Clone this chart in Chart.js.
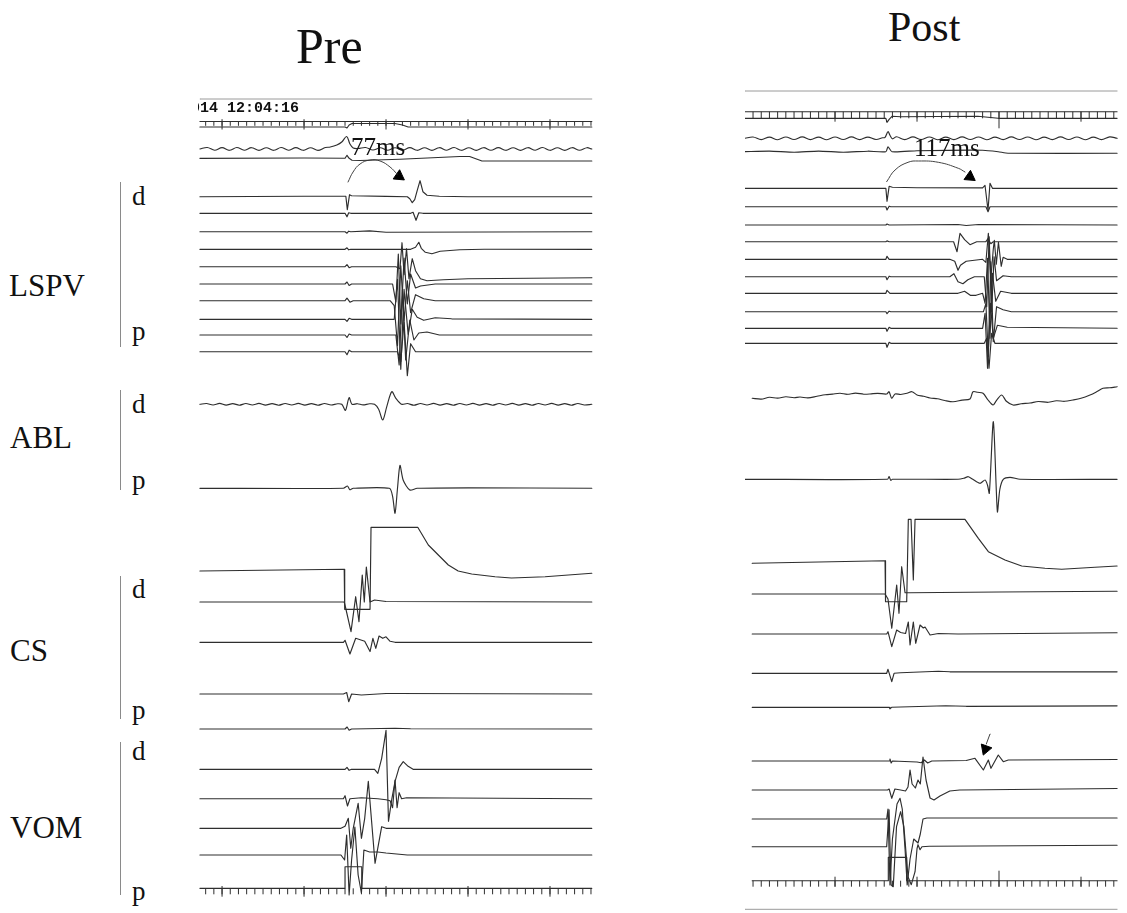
<!DOCTYPE html>
<html><head><meta charset="utf-8">
<script src="https://cdn.jsdelivr.net/npm/chart.js@4.4.1/dist/chart.umd.min.js"></script>
<style>
html,body{margin:0;padding:0;background:#fff}
body{width:1127px;height:913px;position:relative;overflow:hidden;font-family:"Liberation Serif","Times New Roman",serif;color:#111}
canvas{position:absolute}
.t{position:absolute;line-height:1;white-space:nowrap}
.br{position:absolute;width:0;border-left:1px solid #8a8a8a}
</style></head><body>
<canvas id="pre" width="405" height="833" style="left:195px;top:80px"></canvas>
<canvas id="post" width="377" height="833" style="left:745px;top:80px"></canvas>

<div class="t" style="left:296px;top:21px;font-size:50px">Pre</div>
<div class="t" style="left:888px;top:6px;font-size:42px">Post</div>

<div class="t" style="left:9px;top:270px;font-size:31px">LSPV</div>
<div class="t" style="left:10px;top:422px;font-size:31px">ABL</div>
<div class="t" style="left:10px;top:635px;font-size:31px">CS</div>
<div class="t" style="left:10px;top:812px;font-size:31px">VOM</div>
<div class="t" style="left:132px;top:183px;font-size:27px">d</div>
<div class="t" style="left:132px;top:318px;font-size:27px">p</div>
<div class="t" style="left:132px;top:391px;font-size:27px">d</div>
<div class="t" style="left:132px;top:467px;font-size:27px">p</div>
<div class="t" style="left:132px;top:576px;font-size:27px">d</div>
<div class="t" style="left:132px;top:697px;font-size:27px">p</div>
<div class="t" style="left:132px;top:738px;font-size:27px">d</div>
<div class="t" style="left:132px;top:878px;font-size:27px">p</div>
<div class="br" style="left:120px;top:182px;height:165px"></div>
<div class="br" style="left:120px;top:390px;height:100px"></div>
<div class="br" style="left:120px;top:576px;height:143px"></div>
<div class="br" style="left:120px;top:742px;height:153px"></div>

<div class="t" style="left:198px;top:101px;width:110px;overflow:hidden;font-family:'Liberation Mono',monospace;font-weight:bold;font-size:15px"><span style="margin-left:-7px">014 12:04:16</span></div>
<div class="t" style="left:351px;top:134px;font-size:25px">77ms</div>
<div class="t" style="left:914px;top:135px;font-size:25px">117ms</div>

<script>
// ---------- DATA (time in ms, amplitude in display units, + = up) ----------
// Ruler ticks (ms)
const preRulerMinor = [-20,-10,0,10,20,30,40,50,60,70,80,90,100,110,120,130,140,150,160,170,180,190,200,210,220,230,240,250,260,270,280,290,300,310,320,330,340,350,360,370,380,390,400,410,420,430,440,450];
const preRulerMajor = [0,100,200,300,400];
const postRulerMinor = [-100,-90,-80,-70,-60,-50,-40,-30,-20,-10,0,10,20,30,40,50,60,70,80,90,100,110,120,130,140,150,160,170,180,190,200,210,220,230,240,250,260,270,280,290,300,310,320,330,340];
const postRulerMajor = [0,100,300];
const postRulerBig = [200];

// ----- PRE -----
const preFrame = [[-27,0],[451,0]];
const preRuler = [[-27,0],[451,0]];
const preSurf = [[-27,0],[150,0],[152.4,-1],[155,2],[158.5,3.5],[211,3.5],[220,2],[227,0],[451,0]];
const preWave = [[-27,0],[-18,1.5],[-9,-1.2],[0,1.4],[9,-1.3],[18,1.5],[27,-1.2],[36,1.3],[45,-1.4],[54,1.2],[63,-1.3],[72,1.5],[81,-1.2],[90,1.4],[99,-1.3],[108,1.2],[117,-1.4],[126,1.5],[132,2],[140,4],[146,7],[152,12.5],[156,5],[160,1],[166,0.5],[175,1.5],[184,-1],[193,1.2],[202,-1.2],[211,1.3],[220,-1.2],[229,1.4],[238,-1.3],[247,1.2],[256,-1.4],[265,1.3],[274,-1.2],[283,1.5],[292,-1.3],[301,1.2],[310,-1.4],[319,1.3],[328,-1.2],[337,1.4],[346,-1.3],[355,1.2],[364,-1.4],[373,1.3],[382,-1.2],[391,1.5],[400,-1.3],[409,1.2],[418,-1.4],[427,1.3],[436,-1.2],[445,1.3],[451,0]];
const preFlat = [[-27,0],[100,0.3],[150,0],[152.4,3],[155,0],[158.5,-2],[168,-2.2],[217,-1],[290,1.8],[302,1.8],[317,-2.7],[451,-2.7]];
const preL1 = [[-27,0],[100,0.5],[151,0.5],[152.8,-13],[155.5,2],[158,1],[200,0.3],[226,0],[229,-2],[232,-6],[235,-3],[238,6],[241.5,16],[245,5],[250,1.5],[265,0.5],[300,0],[451,0]];
const preL2 = [[-27,0],[150,0],[152.4,-3.5],[154.5,0.5],[157,0],[230,0],[233,1],[236.6,-7],[240,0.5],[245,0],[451,0]];
const preL3 = [[-27,0],[150,0],[152.4,-1.5],[154.5,0.5],[157,0],[180,0.8],[200,-0.5],[451,0]];
const preL4 = [[-27,0],[150,0],[152.4,1.5],[154.5,-0.5],[157,0],[230,0],[236,2],[240,7],[243,1],[248,-3],[256,-4.5],[266,-2],[290,-0.5],[320,0],[451,0]];
const preL5 = [[-27,0],[150,0],[152.4,2],[155,-1],[158,0],[212,0],[217,-2],[219.5,24],[222,-8],[225,18],[228,-12],[232,8],[236,-4],[242,-12],[250,-14],[270,-13],[300,-12],[451,-11]];
const preL6 = [[-27,0],[150,0],[152.4,2],[155,-1.5],[158,0],[208,0],[212,-18],[215,30],[218,-40],[222,26],[226,-20],[230,10],[236,-4],[242,-2],[260,0],[451,0]];
const preL7 = [[-27,0],[150,0],[152.4,2.5],[156,-1.5],[160,0],[205,0],[210,-5],[214,-45],[218,35],[222,-20],[226,20],[230,-12],[236,6],[246,2],[260,0],[451,0]];
const preL8 = [[-27,0],[150,0],[152.4,-2],[155,1],[158,0],[210,0],[214,40],[218,-50],[222,30],[227,-15],[232,10],[238,2],[246,-1],[260,1.5],[280,0.5],[451,0]];
const preL9 = [[-27,0],[150,0],[152.4,-2.5],[155,1],[158,0],[212,0],[216,-30],[220,45],[224,-25],[229,15],[234,-5],[240,2],[250,3],[265,0],[451,0]];
const preL10 = [[-27,0],[150,0],[152.4,-3],[155,1.5],[158,0],[214,0],[218,-10],[222,30],[226,-24],[230,8],[236,0],[451,0]];
const preAblD = [[-27,0],[-19,0.8],[-11,-0.7],[-3,0.9],[5,-0.8],[13,0.7],[21,-0.9],[29,0.8],[37,-0.7],[45,0.9],[53,-0.8],[61,0.7],[69,-0.9],[77,0.8],[85,-0.7],[93,0.9],[101,-0.8],[109,0.7],[117,-0.9],[125,0.8],[133,-0.7],[141,0.5],[146,0],[150.5,-6],[155,6.6],[158.5,0],[165,0.6],[172,-0.6],[180,0.5],[186,0],[191,-5],[196,-15.7],[201,-2],[207,12.6],[212,6],[219,0],[226,0.8],[234,-0.9],[242,0.8],[250,-0.7],[258,0.9],[266,-0.8],[274,0.7],[282,-0.9],[290,0.8],[298,-0.7],[306,0.9],[314,-0.8],[322,0.7],[330,-0.9],[338,0.8],[346,-0.7],[354,0.9],[362,-0.8],[370,0.7],[378,-0.9],[386,0.8],[394,-0.7],[402,0.9],[410,-0.8],[418,0.7],[426,-0.9],[434,0.8],[442,-0.7],[451,0]];
const preAblP = [[-27,0],[148,0],[153,2.3],[156,-1.5],[160,0],[204,0],[208,-8],[211,-25],[214,0],[217,23],[221,8],[229,-1.7],[238,0],[300,0.5],[451,0]];
const preCSstep = [[-27,-1],[149,0.7],[149.6,-39.3],[180.5,-39.3],[181.7,42.7],[238.7,42.7],[251.6,25],[263.8,15],[276,5],[288,-1],[304.5,-4],[333,-6.7],[353,-8],[394,-6.7],[451,-3.3]];
const preCSd = [[-27,0],[149,0],[150.5,-5],[157.3,-29.7],[163,5.3],[167,-19.7],[171,27],[173.5,0],[176,35],[180.5,0],[186,2],[200,0.5],[451,0]];
const preCS3 = [[-27,0],[148,0],[150,2],[156,-11.7],[163,4],[174,1],[180.5,-9.3],[184,4],[187.5,-6],[191.5,6.3],[196,4],[200,5.5],[205,1],[211,0],[451,0]];
const preCS4 = [[-27,0],[148,0],[152,1.5],[154.5,-7.7],[158,0],[170,-1],[200,0.5],[211,0.5],[451,0]];
const preCS5 = [[-27,0],[150,0],[152.5,2],[155,-1.2],[158,0],[211,0.7],[230,0.3],[451,0]];
const preV1 = [[-27,0],[150,0],[152.4,2],[155,-1],[158,0],[186,0],[190,-4],[194.7,11],[200,39],[203,-52],[207,-30],[211,-12],[216,2],[221,7.6],[227,3],[233,0],[451,0]];
const preV2 = [[-27,0],[148,0],[150,3],[153,-7.3],[156,0],[170,1],[190,0],[200,-1],[205,-2],[208,-9],[211,18.7],[213.5,-9],[216,6],[219,0],[225,1],[451,0]];
const preV3 = [[-27,0],[145,0],[150,2],[154,10],[157,-20],[160,0],[166,25],[170,-10],[174,10],[178.4,47],[186.6,-35],[194.7,1.6],[200,0],[451,0]];
const preV4 = [[-27,0],[145,0],[149.5,-5],[152,20],[155,-40],[158,-5],[162,28],[166,-20],[170,-38],[173,5],[180,3],[190,3],[200,2],[226,0],[451,0]];
const preRulerB = [[-27,0],[150,0],[150,21.6],[170.4,21.6],[170.4,0],[451,0]];
const preArc = [[153.7,14.7],[159.8,24.7],[168.3,32.7],[180.5,36.7],[192.7,35.7],[204.9,29.7],[213.4,22.7]];
const preArrowHead = [[215.9,20.5]];

// ----- POST -----
const postFrame = [[-110,0],[344,0]];
const postRuler = [[-110,0],[344,0]];
const postSurf = [[-110,0],[62,0],[63.4,-4],[66,-1],[69.5,2],[80,1.5],[174,2],[199,0],[344,0]];
const postWave = [[-110,0],[-100,1.3],[-90,-1.3],[-80,1.2],[-70,-1.4],[-60,1.3],[-50,-1.2],[-40,1.4],[-30,-1.3],[-20,1.2],[-10,-1.4],[0,1.3],[10,-1.2],[20,1.4],[30,-1.3],[40,1.2],[50,-1.2],[58,0.5],[61,1],[64.6,6.6],[67,3],[70,-0.5],[75,1.5],[85,-1.3],[95,1.4],[105,-1.2],[115,1.3],[125,-1.4],[135,1.2],[145,-1.3],[155,1.4],[165,-1.2],[175,1.3],[185,-1.4],[195,1.2],[205,-1.3],[215,1.4],[225,-1.2],[235,1.3],[245,-1.4],[255,1.2],[265,-1.3],[275,1.4],[285,-1.2],[295,1.3],[305,-1.4],[315,1.2],[325,-1.3],[335,1.4],[344,0]];
const postFlat = [[-110,0],[-80,0.6],[-50,-0.5],[-20,0.6],[10,-0.5],[40,0.5],[62,0],[64.6,5],[69.5,0],[100,1],[180,1.5],[199,0],[211,-1.5],[344,-1.5]];
const postL1 = [[-110,0],[62,0],[63.4,-13],[66,2],[70,1],[100,0.5],[180,0.5],[182.9,3],[186.6,-22],[189,5],[192,0],[344,0]];
const postL2 = [[-110,0],[62,0],[63.4,-3.3],[66,0.5],[68,0],[184,0],[186.6,-5],[189,0],[344,0]];
const postL3 = [[-110,0],[62,0],[63.4,1],[66,0],[150,0.5],[160,-0.5],[175,0.5],[344,0]];
const postL4 = [[-110,0],[62,0],[63.4,0.8],[66,0],[144.6,0],[148.8,-10],[152.4,8.3],[158,2],[164.6,-3],[172.8,0],[184,0],[186.6,3],[190,-2],[193,0],[344,0]];
const postL5 = [[-110,0],[62,0],[63.4,3],[66,0],[140,0],[146,-2],[150,-11],[153,-6],[160,-2],[180,0],[184,-3],[187,26],[190,-20],[193,10],[194.3,19],[196.7,-5],[199.3,17],[202.7,-7],[205,2],[210,0],[344,0]];
const postL6 = [[-110,0],[62,0],[63.4,-3],[66,0.5],[68,0],[140,0],[145,3],[150,-5],[156,-7],[162,-3],[170,0],[182,0],[185,-30],[188,40],[191,-35],[194,20],[197,-4],[205,1],[215,0],[344,0]];
const postL7 = [[-110,0],[62,0],[63.4,3],[67,0],[150,0],[158,2],[165,-2],[172,-2],[180,0],[183,-10],[186,35],[189,-45],[192,20],[196,-8],[202,2],[215,0],[344,0]];
const postL8 = [[-110,0],[62,0],[63.4,-2],[66,0.5],[68,0],[181,0],[184,8],[187,-45],[190,50],[193,-30],[197,5],[205,2],[215,0],[344,0]];
const postL9 = [[-110,0],[62,0],[63.4,-3],[66,1],[68,0],[180,0],[183,15],[186,-40],[189.5,25],[193,-10],[198,3],[210,1],[344,0]];
const postL10 = [[-110,0],[62,0],[63.4,-4],[66,1],[68,0],[182,0],[185,5],[187.8,-25],[191,10],[195,0],[344,0]];
const postAblD = [[-101,0],[-90,-0.8],[-80,1],[-70,0.2],[-60,1.5],[-50,0.6],[-42.7,1.3],[-33,0.4],[-22,2],[-12,3.5],[-3,4.2],[6.1,5],[15,4],[25,5.2],[35,4.1],[42.7,4.3],[52,5],[63,4.3],[65.9,6.6],[69.2,0],[73.2,4.3],[80,3.8],[87.8,5],[93.9,6.6],[100,3.3],[108,2],[115.9,0.3],[125,-0.5],[134,-2.2],[143.9,-3.4],[155,-1.8],[164.6,-0.7],[168.3,6.6],[174,6],[180.5,5],[186,-1],[192.7,-6.7],[197,-2],[203.3,3.3],[209,-3],[217.1,-6.7],[227,-5.5],[237.8,-4.7],[248,-3.2],[260,-4],[270,-2.5],[280,-3],[290.2,-1.7],[300,0],[311,3.3],[319,6.5],[326.8,10],[335,10.5],[344,11.6]];
const postAblP = [[-110,0],[64,0],[65.9,2.7],[68,-1],[70,0],[150,0],[157,1],[162.6,2.6],[168,0],[176.8,-4],[183,-0.7],[186,-6],[188.2,-14],[193.1,57.6],[198,-32.4],[201,-10],[205.2,0],[213.4,2],[225.6,0],[344,0]];
const postCSstep = [[-101,-0.6],[61,2],[61.6,-39],[87.4,-39],[89.4,43.4],[92.7,43.4],[95.5,-17.3],[97.6,43.4],[158.5,43.4],[174.8,24.4],[187,11],[207.3,2.7],[227.7,-3.3],[256,-5.6],[276.5,-6.6],[317,-4.6],[344,-3.3]];
const postCSd = [[-101,0],[61,0],[64.6,-5],[69.2,-34.3],[75.2,9],[78,-19.3],[81.3,27.3],[85.4,1.3],[91.5,1.3],[200,2],[344,2.7]];
const postCS3 = [[-101,0],[63,0],[64.6,2.3],[69.2,-12.7],[75.2,4],[80,1.5],[86,0.5],[89.4,12],[91.5,-11],[95.5,12],[98.4,-9.3],[103.7,9],[107.7,6],[109.8,7],[115.9,-1],[126,0.5],[150,0],[344,1.3]];
const postCS4 = [[-101,0],[63,0],[64.6,4],[69.2,-8.3],[72,0],[80,0.5],[126,2],[140,1.5],[344,1.5]];
const postCS5 = [[-101,0],[66,0],[67,-1.5],[69,0],[135,1.5],[160,1],[344,1.5]];
const postV1 = [[-101,0],[66,0],[67,2],[68.5,-2],[70,0],[100,-1],[105,-1.7],[109,1],[113,-2],[118,0],[160,0.5],[170.7,2.7],[180.9,-9],[187,1],[190.2,-7.3],[199.1,6],[205.2,-0.7],[211.3,1],[344,1.5]];
const postV2 = [[-101,0],[64,0],[66,1],[69.2,-8.3],[73,1],[80,0],[86,-1],[89,3],[91.5,20],[94,6],[98,2],[101.2,10],[104,6],[107.3,33],[111,10],[115.9,-8],[120.7,-10],[128,-6],[140,-1],[152,0],[344,1.5]];
const postV3 = [[-101,0],[63,0],[64.6,10],[67,-66],[70,-20],[75.6,15],[79.3,20.7],[82,10],[85.4,-30],[88,-66],[91.5,-40],[96,-20],[101.2,-24],[104,-15],[107.3,0],[112,1],[344,1]];
const postV4 = [[-101,0],[63,0],[65.9,37],[68.3,-38],[71,-40],[75,20],[80,35],[84,20],[89,-30],[93,-38],[97.6,-25],[100,-2],[101.2,2],[103.7,-3],[106,0],[115,0.5],[344,1.5]];
const postRulerB = [[-101,0],[65,0],[65,23.4],[87.4,23.4],[87.4,0],[344,0]];
const postArc = [[63,6.6],[73.2,18.3],[89,26],[101.6,27.3],[126,26],[150.4,20],[158.5,16.3]];
const postArrowHead = [[164.5,11.5]];
const postVArrowLine = [[189,27],[184.5,17]];
const postVArrowHead = [[183.5,12]];

// ---------- LAYOUT (trace baselines in canvas units from the top) ----------
const INK = '#2e2e2e';
const preOff = {frame:19, ruler:41.5, surf:47, wave:69, flat:78.3, L:[116.7,133.3,151.7,169.3,186.7,204,220.7,239.3,255,271.7], ablD:324.3, ablP:408.3, csStep:490, csD:522, cs3:562.3, cs4:614, cs5:649, V:[689.3,718.7,748.3,775], rulerB:808.3};
const postOff = {frame:11, ruler:31.7, surf:38.3, wave:58.3, flat:71.7, L:[108.3,126.7,145,161.7,179.3,196.7,213.3,231.7,248.3,263.3], ablD:318.3, ablP:399.3, csStep:482.7, csD:514, cs3:554, cs4:593.3, cs5:627.3, V:[681,710,739,766.7], rulerB:800.7, frameB:829.3};

function tr(points, off, extra) {
  return Object.assign({showLine:true, pointRadius:0, borderColor:INK, borderWidth:1.15, tension:0,
    data: points.map(p => ({x:p[0], y:off - p[1]}))}, extra || {});
}
function tk(list, off, up, down, w) {
  return {showLine:false, pointStyle:'line', pointRotation:90, pointRadius:(up+down)/2, pointBorderWidth:w||1,
    pointBorderColor:INK, borderColor:INK, data:list.map(t => ({x:t, y:off + (down-up)/2}))};
}
function head(points, off, rot, r) {
  return {showLine:false, pointStyle:'triangle', pointRotation:rot, pointRadius:r, pointBackgroundColor:'#000',
    pointBorderColor:'#000', pointBorderWidth:1, data: points.map(p => ({x:p[0], y:off - p[1]}))};
}
function mkChart(id, xmin, xmax, datasets) {
  return new Chart(document.getElementById(id), {
    type:'scatter', data:{datasets},
    options:{responsive:false, animation:false, events:[], devicePixelRatio:1,
      layout:{padding:0, autoPadding:false},
      plugins:{legend:{display:false}, tooltip:{enabled:false}},
      elements:{line:{borderJoinStyle:'round', borderCapStyle:'round'}},
      scales:{x:{type:'linear', min:xmin, max:xmax, display:false},
              y:{type:'linear', min:0, max:833, reverse:true, display:false}}}
  });
}

const P = preOff;
const preSets = [
  tr(preFrame, P.frame, {borderColor:'#9a9a9a', borderWidth:1}),
  tr(preRuler, P.ruler),
  tk(preRulerMinor, P.ruler, 0, 4.3),
  tk(preRulerMajor, P.ruler, 2.3, 8),
  tr(preSurf, P.surf),
  tr(preWave, P.wave, {tension:0.35}),
  tr(preFlat, P.flat),
  tr(preL1, P.L[0]), tr(preL2, P.L[1]), tr(preL3, P.L[2]), tr(preL4, P.L[3]), tr(preL5, P.L[4]),
  tr(preL6, P.L[5]), tr(preL7, P.L[6]), tr(preL8, P.L[7]), tr(preL9, P.L[8]), tr(preL10, P.L[9]),
  tr(preAblD, P.ablD, {tension:0.3}), tr(preAblP, P.ablP, {tension:0.25}),
  tr(preCSstep, P.csStep), tr(preCSd, P.csD), tr(preCS3, P.cs3), tr(preCS4, P.cs4), tr(preCS5, P.cs5),
  tr(preV1, P.V[0]), tr(preV2, P.V[1]), tr(preV3, P.V[2]), tr(preV4, P.V[3]),
  tr(preRulerB, P.rulerB),
  tk(preRulerMinor, P.rulerB, 0, 6),
  tk(preRulerMajor, P.rulerB, 2.3, 8.4),
  tr(preArc, P.L[0], {tension:0.45, borderWidth:1, borderColor:'#444'}),
  head(preArrowHead, P.L[0], 125, 6.5)
];
const Q = postOff;
const postSets = [
  tr(postFrame, Q.frame, {borderColor:'#9a9a9a', borderWidth:1}),
  tr(postRuler, Q.ruler),
  tk(postRulerMinor, Q.ruler, 0, 6.6),
  tk(postRulerMajor, Q.ruler, 0, 10),
  tk(postRulerBig, Q.ruler, 0, 16.6),
  tr(postSurf, Q.surf),
  tr(postWave, Q.wave, {tension:0.35}),
  tr(postFlat, Q.flat, {tension:0.2}),
  tr(postL1, Q.L[0]), tr(postL2, Q.L[1]), tr(postL3, Q.L[2]), tr(postL4, Q.L[3]), tr(postL5, Q.L[4]),
  tr(postL6, Q.L[5]), tr(postL7, Q.L[6]), tr(postL8, Q.L[7]), tr(postL9, Q.L[8]), tr(postL10, Q.L[9]),
  tr(postAblD, Q.ablD, {tension:0.3}), tr(postAblP, Q.ablP, {tension:0.25}),
  tr(postCSstep, Q.csStep), tr(postCSd, Q.csD), tr(postCS3, Q.cs3), tr(postCS4, Q.cs4), tr(postCS5, Q.cs5),
  tr(postV1, Q.V[0]), tr(postV2, Q.V[1]), tr(postV3, Q.V[2]), tr(postV4, Q.V[3]),
  tr(postRulerB, Q.rulerB),
  tk(postRulerMinor, Q.rulerB, 0, 6),
  tk(postRulerMajor, Q.rulerB, 4, 6),
  tk(postRulerBig, Q.rulerB, 10, 6),
  tr(postFrame, Q.frameB, {borderColor:'#9a9a9a', borderWidth:1}),
  tr(postArc, Q.L[0], {tension:0.45, borderWidth:1, borderColor:'#444'}),
  head(postArrowHead, Q.L[0], 125, 6.5),
  tr(postVArrowLine, Q.V[0], {borderWidth:1, borderColor:'#444'}),
  head(postVArrowHead, Q.V[0], 200, 6.5)
];
mkChart('pre', -33, 461, preSets);
mkChart('post', -109.8, 350, postSets);
</script>
</body></html>
